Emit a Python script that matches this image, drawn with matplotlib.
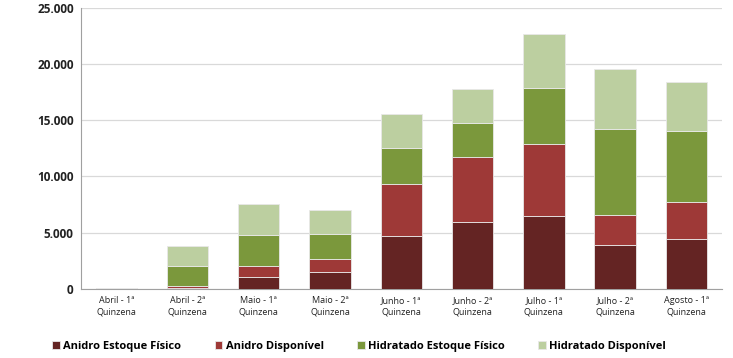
import matplotlib
matplotlib.use("Agg")
import matplotlib.pyplot as plt
import numpy as np

categories = ["Abril - 1ª\nQuinzena", "Abril - 2ª\nQuinzena", "Maio - 1ª\nQuinzena",
              "Maio - 2ª\nQuinzena", "Junho - 1ª\nQuinzena", "Junho - 2ª\nQuinzena",
              "Julho - 1ª\nQuinzena", "Julho - 2ª\nQuinzena", "Agosto - 1ª\nQuinzena"]
anidro_estoque = [20, 100, 1100, 1500, 4700, 5980, 6500, 3900, 4440]
anidro_disp = [20, 200, 970, 1200, 4600, 5780, 6400, 2680, 3320]
hidratado_estoque = [20, 1750, 2730, 2200, 3200, 3040, 4940, 7620, 6310]
hidratado_disp = [20, 1770, 2750, 2100, 3100, 2950, 4860, 5400, 4300]

series = [
    ("Anidro Estoque Físico", anidro_estoque, "#642423"),
    ("Anidro Disponível", anidro_disp, "#9e3937"),
    ("Hidratado Estoque Físico", hidratado_estoque, "#7b983c"),
    ("Hidratado Disponível", hidratado_disp, "#bccfa0"),
]

plt.rcParams["font.family"] = ["Open Sans", "DejaVu Sans"]
fig = plt.figure(figsize=(7.33, 3.58), dpi=100)
ax = fig.add_axes([0.11, 0.193, 0.875, 0.785])

x = np.arange(len(categories))
bottom = np.zeros(len(categories))
for name, vals, col in series:
    ax.bar(x, vals, 0.58, bottom=bottom, color=col, edgecolor="#e8e8e8",
           linewidth=0.6, label=name, zorder=3)
    bottom += np.array(vals)

ax.set_xlim(-0.5, 8.5)
ax.set_ylim(0, 25000)
ax.set_yticks(range(0, 25001, 5000))
ax.set_yticklabels(["0", "5.000", "10.000", "15.000", "20.000", "25.000"],
                   fontsize=8.5, fontweight="bold", color="#222222")
ax.set_xticks(x)
ax.set_xticklabels(categories, fontsize=6.5, color="#222222", linespacing=1.4)
ax.tick_params(length=0, pad=5)
ax.grid(axis="y", color="#d9d9d9", lw=0.9, zorder=0)
for s in ("top", "right"):
    ax.spines[s].set_visible(False)
for s in ("left", "bottom"):
    ax.spines[s].set_color("#a0a0a0")

fig.legend(loc="lower center", ncol=4, bbox_to_anchor=(0.49, -0.01), frameon=False,
           handlelength=0.7, handleheight=0.7, handletextpad=0.3,
           columnspacing=3.0, prop={"weight": "bold", "size": 8})
fig.savefig("out.png", dpi=100)
